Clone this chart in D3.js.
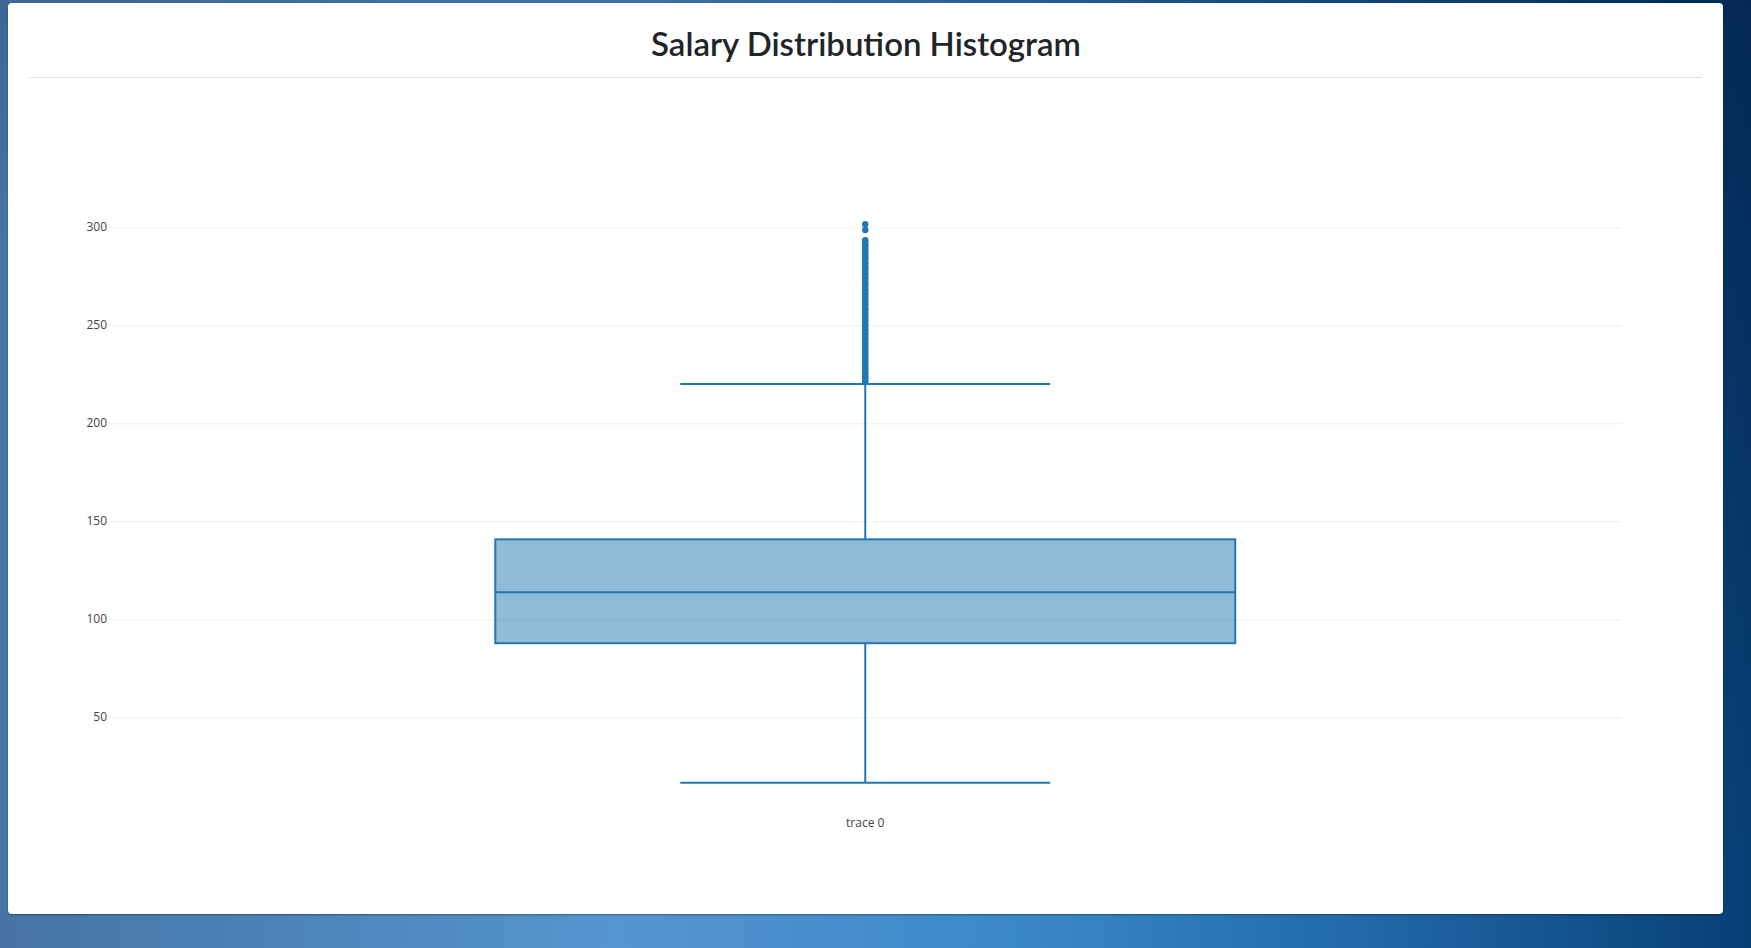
<!DOCTYPE html>
<html>
<head>
<meta charset="utf-8">
<title>Salary Distribution Histogram</title>
<script src="https://cdn.jsdelivr.net/npm/d3@7"></script>
<style>
  html, body { margin: 0; padding: 0; width: 1751px; height: 948px; overflow: hidden; }
  body {
    background:
      linear-gradient(200deg, rgba(0, 18, 50, 0.5) 0%, rgba(0, 18, 50, 0) 55%),
      linear-gradient(90deg, #4674a5 0%, #5595cf 35%, #3b88c9 58%, #2169a8 78%, #073f75 100%);
  }
  #card {
    position: absolute; left: 8px; top: 3px; width: 1715px; height: 911px;
    background: #fff; border-radius: 4px; box-shadow: 0 1px 2px rgba(0, 0, 0, 0.35);
  }
  #chart { position: absolute; left: 0; top: 0; }
</style>
</head>
<body>
<div id="card"></div>
<svg id="chart"></svg>
<script>
// chart values
var title = 'Salary Distribution Histogram'
var categories = ['trace 0']
var lowerFence = [16.6]
var q1 = [87.8]
var median = [113.8]
var q3 = [140.8]
var upperFence = [220.1]
var yTicks = [50, 100, 150, 200, 250, 300]
// outliers above the upper fence (trace 0)
var outliers = [301.6, 298.6, 293.4, 292.6, 291.3, 290.5, 289.1, 288.4, 287.0, 285.9,
  284.7, 283.8, 282.2, 281.5, 280.1, 279.0, 278.2, 276.8, 275.9, 274.4, 273.6, 272.1,
  271.3, 270.0, 268.6, 267.9, 266.4, 265.5, 264.2, 263.0, 262.1, 260.7, 259.8, 258.3,
  257.5, 256.0, 255.2, 253.8, 252.7, 251.9, 250.4, 249.6, 248.1, 247.3, 245.8, 245.0,
  243.5, 242.6, 241.2, 240.3, 239.0, 237.9, 236.7, 235.6, 234.4, 233.1, 232.2, 230.8,
  229.9, 228.5, 227.6, 226.2, 225.4, 224.0, 223.1, 221.9, 221.0]

var W = 1751, H = 948
var plot = { left: 109, right: 1621.5 }
var blue = '#1f77b4'
var tickFont = '"Open Sans", verdana, arial, sans-serif'

var svg = d3.select('#chart').attr('width', W).attr('height', H)

// header: title and the rule under it
var t = svg.append('text')
  .attr('x', 866)
  .attr('y', 56)
  .attr('text-anchor', 'middle')
  .style('font-family', 'Lato, "Open Sans", sans-serif')
  .style('font-weight', 600)
  .style('font-size', '32px')
  .style('fill', '#212529')
  .text(title)
// squeeze to the width of the original heading
var tw = t.node().getComputedTextLength()
if (tw) t.style('font-size', (32 * 430 / tw) + 'px')

svg.append('line')
  .attr('x1', 29).attr('x2', 1702)
  .attr('y1', 77.5).attr('y2', 77.5)
  .style('stroke', '#e3e3e3')

// scales
var x = d3.scaleBand()
  .domain(categories)
  .range([plot.left, plot.right])
  .padding(0.343)

var y = d3.scaleLinear()
  .domain([10, 310])
  .range([795.7, 207.7])

// y axis with gridlines
var yAxis = svg.append('g')
  .attr('transform', 'translate(' + plot.left + ',0)')
  .call(d3.axisLeft(y)
    .tickValues(yTicks)
    .tickSize(-(plot.right - plot.left))
    .tickPadding(2))
yAxis.select('.domain').remove()
yAxis.selectAll('line').style('stroke', '#eee')
yAxis.selectAll('text')
  .attr('dy', '0.25em')
  .style('font-family', tickFont)
  .style('font-size', '12px')
  .style('fill', '#444')

// category axis
var xAxis = svg.append('g')
  .attr('transform', 'translate(0,806)')
  .call(d3.axisBottom(x).tickSize(0).tickPadding(12))
xAxis.select('.domain').remove()
xAxis.selectAll('text')
  .style('font-family', tickFont)
  .style('font-size', '12px')
  .style('fill', '#444')

// box traces
var boxes = categories.map((c, i) => ({
  cat: c, lo: lowerFence[i], q1: q1[i], med: median[i], q3: q3[i], hi: upperFence[i]
}))

var g = svg.append('g').selectAll('g.box')
  .data(boxes)
  .enter().append('g')
  .attr('class', 'box')

g.each(function (d) {
  var sel = d3.select(this)
  var x0 = x(d.cat), bw = x.bandwidth(), cx = x0 + bw / 2
  var cap = bw / 4

  // whisker stems
  sel.append('line')
    .attr('x1', cx).attr('x2', cx)
    .attr('y1', y(d.q3)).attr('y2', y(d.hi))
  sel.append('line')
    .attr('x1', cx).attr('x2', cx)
    .attr('y1', y(d.q1)).attr('y2', y(d.lo))
  // whisker caps
  sel.append('line')
    .attr('x1', cx - cap).attr('x2', cx + cap)
    .attr('y1', y(d.hi)).attr('y2', y(d.hi))
  sel.append('line')
    .attr('x1', cx - cap).attr('x2', cx + cap)
    .attr('y1', y(d.lo)).attr('y2', y(d.lo))

  sel.append('rect')
    .attr('x', x0).attr('width', bw)
    .attr('y', y(d.q3)).attr('height', y(d.q1) - y(d.q3))
    .style('fill', 'rgba(31,119,180,0.5)')

  sel.append('line')
    .attr('x1', x0).attr('x2', x0 + bw)
    .attr('y1', y(d.med)).attr('y2', y(d.med))

  sel.selectAll('line, rect')
    .style('stroke', blue)
    .style('stroke-width', 2)
})

// outlier points
svg.append('g').selectAll('circle')
  .data(outliers)
  .enter().append('circle')
  .attr('cx', x(categories[0]) + x.bandwidth() / 2)
  .attr('cy', d => y(d))
  .attr('r', 3.2)
  .style('fill', blue)
</script>
</body>
</html>
